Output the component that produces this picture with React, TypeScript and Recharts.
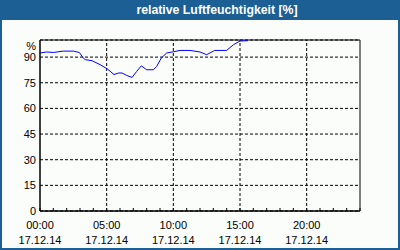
import React from 'react';
import { LineChart, Line, XAxis, YAxis, CartesianGrid, ReferenceLine, ReferenceArea, Label } from 'recharts';

const hours = [0, 0.5, 1.0, 1.75, 2.5, 2.95, 3.25, 3.4, 3.9, 4.5, 5.05, 5.55, 5.9, 6.15, 6.5, 6.9, 7.25, 7.6, 8.0, 8.5, 8.75, 9.1, 9.5, 10.0, 10.5, 11.25, 12.0, 12.5, 13.1, 14.0, 14.5, 15.0, 15.6];
const humidity = [92.4, 93.0, 92.7, 93.5, 93.5, 92.7, 89.4, 88.5, 87.9, 85.6, 83.1, 79.8, 80.7, 80.7, 79.3, 78.1, 81.6, 84.9, 82.6, 82.6, 84.5, 89.5, 92.4, 93.1, 93.9, 93.9, 93.0, 91.4, 93.9, 93.9, 97.2, 99.4, 99.6];
const xTicks = Array.from({ length: 25 }, (_, i) => i);
const xLabelHours = [0, 5, 10, 15, 20];
const xLabelTimes = ['00:00', '05:00', '10:00', '15:00', '20:00'];
const dateLabel = '17.12.14';
const yTicks = [0, 15, 30, 45, 60, 75, 90];
const gridHours = [5, 10, 15, 20];
const title = 'relative Luftfeuchtigkeit [%]';

const data = hours.map((h, i) => ({ h, v: humidity[i] }));

const FONT = '"Liberation Sans", Arial, sans-serif';
const BLUE = '#1c5f94';
const BG = '#fbfdfb';

const XTick = (props: any) => {
  const { x, payload } = props;
  const idx = xLabelHours.indexOf(payload.value);
  if (idx < 0) return <g />;
  return (
    <text x={x} textAnchor="middle" fontFamily={FONT} fontSize={11} fill="#000">
      <tspan x={x} y={229}>{xLabelTimes[idx]}</tspan>
      <tspan x={x} y={243.5}>{dateLabel}</tspan>
    </text>
  );
};

export default function App() {
  return (
    <div style={{ position: 'absolute', left: 0, top: 0, width: 400, height: 250, background: BLUE }}>
      <div style={{ position: 'absolute', left: 2, top: 20, width: 396, height: 228, background: BG }} />
      <div style={{ position: 'absolute', left: 0, top: 0, width: 434, height: 20, lineHeight: '20px', textAlign: 'center', color: '#fff', fontFamily: FONT, fontWeight: 'bold', fontSize: 12.3 }}>
        {title}
      </div>
      <div style={{ position: 'absolute', left: 0, top: 0 }}>
        <LineChart width={400} height={250} data={data} margin={{ top: 40, right: 40, bottom: 0, left: 4 }}>
          <CartesianGrid vertical={false} stroke="#000" strokeDasharray="3 2" />
          {gridHours.map((g) => (
            <ReferenceLine key={g} x={g} stroke="#000" strokeDasharray="3 2" />
          ))}
          <ReferenceArea x1={0} x2={24} y1={0} y2={100} stroke="#000" fill="none" strokeWidth={1} />
          <XAxis
            dataKey="h"
            type="number"
            domain={[0, 24]}
            ticks={xTicks}
            interval={0}
            height={39}
            tickSize={-3}
            tickLine={{ stroke: '#000' }}
            axisLine={{ stroke: '#000' }}
            tick={<XTick />}
          />
          <YAxis
            type="number"
            domain={[0, 100]}
            ticks={yTicks}
            interval={0}
            width={36}
            tickSize={0}
            tickMargin={4}
            tickLine={false}
            axisLine={{ stroke: '#000' }}
            tick={{ fontFamily: FONT, fontSize: 11, fill: '#000' }}
          >
            <Label
              content={() => (
                <text x={36} y={50} textAnchor="end" fontFamily={FONT} fontSize={11} fill="#000">%</text>
              )}
            />
          </YAxis>
          <Line type="linear" dataKey="v" stroke="#0000ff" strokeWidth={1} dot={false} isAnimationActive={false} />
        </LineChart>
      </div>
    </div>
  );
}
